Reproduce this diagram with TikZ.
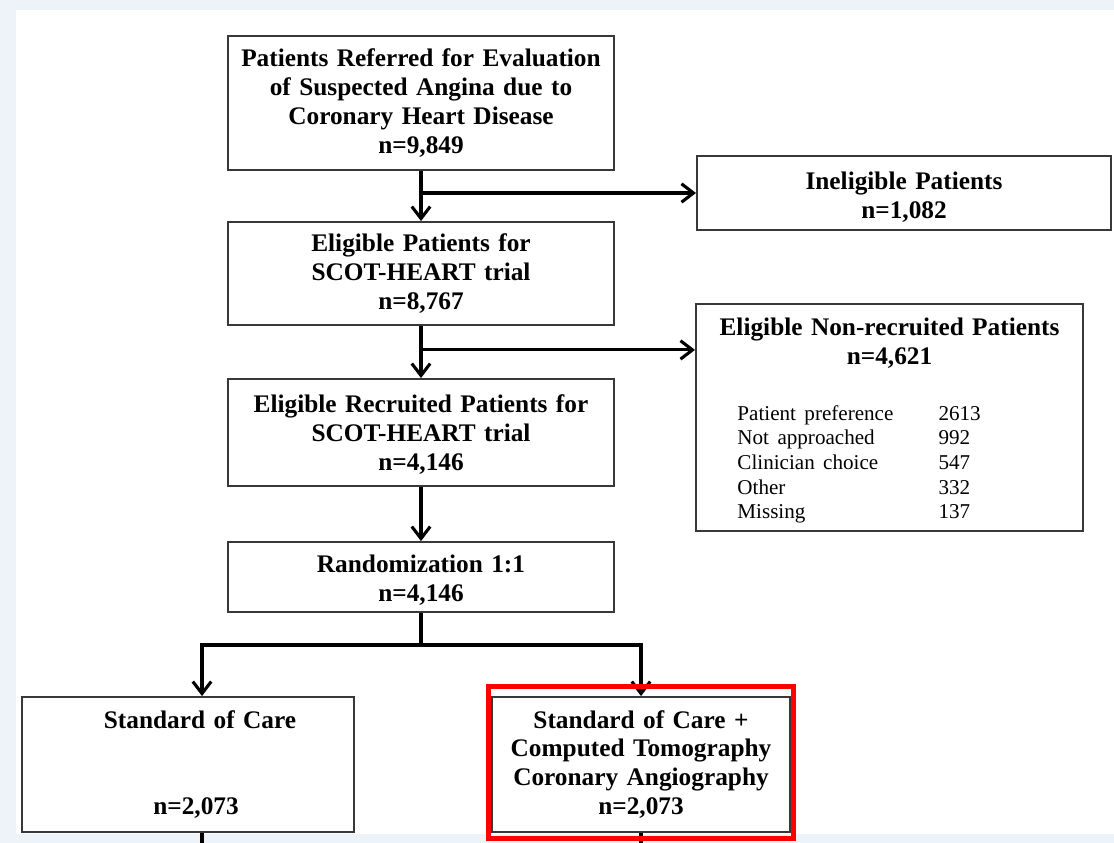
\documentclass[tikz,border=0pt]{standalone}
\usepackage{fontspec}
\setmainfont{Liberation Serif}
\usepackage{tikz}
\usetikzlibrary{arrows.meta,positioning,calc}
\definecolor{bgblue}{HTML}{EEF3F9}
\definecolor{boxgray}{HTML}{383838}

\begin{document}
\begin{tikzpicture}[x=0.025cm, y=-0.025cm, >=Stealth,
    box/.style={rectangle,draw=boxgray,line width=1.3pt,fill=white,inner sep=0pt,align=center,
      font=\bfseries\fontsize{18}{20.6}\selectfont},
    line/.style={draw=black,line width=2.2pt,-{Straight Barb[length=3mm,width=4.6mm]}},
    hilite/.style={draw=red,line width=3.5pt}]
    \useasboundingbox[fill=bgblue] (0,0) rectangle (1114,843);
    \fill[white] (16,10) rectangle (1114,834);
    \node[box,text width=9.65cm,minimum height=3.35cm] (ref) at (421,103) {Patients Referred for Evaluation\\of Suspected Angina due to\\Coronary Heart Disease\\n=9,849};
    \node[box,text width=10.35cm,minimum height=1.85cm] (inel) at (904,193) {\rule{0pt}{19pt}Ineligible Patients\\n=1,082};
    \node[box,text width=9.65cm,minimum height=2.575cm] (elig) at (421,273.5) {Eligible Patients for\\SCOT-HEART trial\\n=8,767};
    \node[box,text width=9.675cm,minimum height=5.675cm] (nonrec) at (889.5,417.5) {\rule{0pt}{19pt}Eligible Non-recruited Patients\\n=4,621\\[19pt]
      {\mdseries\fontsize{15}{17.5}\selectfont\begin{tabular}[t]{@{\hspace{1.025cm}}p{5.025cm}@{}p{3.6cm}@{}}
        Patient preference & 2613\\ Not approached & 992\\ Clinician choice & 547\\ Other & 332\\ Missing & 137
      \end{tabular}}};
    \node[box,text width=9.65cm,minimum height=2.675cm] (recr) at (421,432.5) {\rule{0pt}{16pt}Eligible Recruited Patients for\\SCOT-HEART trial\\n=4,146};
    \node[box,text width=9.65cm,minimum height=1.75cm] (rand) at (421,577) {\rule{0pt}{17pt}Randomization 1:1\\n=4,146};
    \node[box,text width=8.3cm,minimum height=3.375cm] (soc) at (188,764.5) {\hspace*{0.6cm}Standard of Care\\[41.2pt]\hspace*{0.4cm}n=2,073};
    \node[box,text width=7.45cm,minimum height=3.375cm] (ctca) at (641,764.5) {Standard of Care +\\Computed Tomography\\Coronary Angiography\\n=2,073};
    \coordinate (split) at (421,645);
    \coordinate (b2) at ($(elig.south)+(0,24)$);
    \coordinate (socin) at ([xshift=0.35cm]soc.north);
    \path[line] (ref)--(elig); \path[line] (ref.south |- inel.west)--(inel.west);
    \path[line] (elig)--(recr); \path[line] (b2)--(b2 -| nonrec.west);
    \path[line] (recr)--(rand);
    \path[line] (rand.south)--(split)-|(socin); \path[line] (split)-|(ctca.north);
    \draw[line width=2.2pt] ([xshift=0.35cm]soc.south)--++(0,11); \draw[line width=2.2pt] (ctca.south)--++(0,11);
    \draw[hilite] ([shift={(-2.5,-9.5)}]ctca.north west) rectangle ([shift={(2.5,5.5)}]ctca.south east);
  \end{tikzpicture}
\end{document}
